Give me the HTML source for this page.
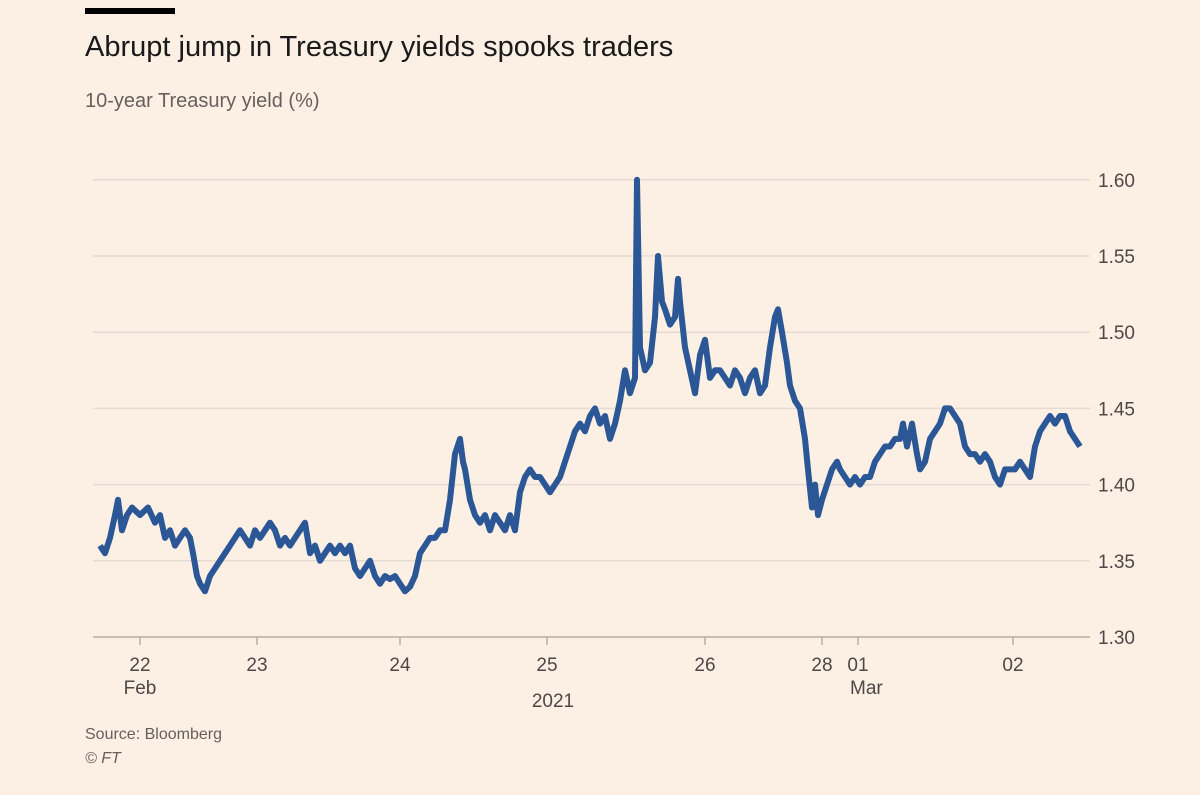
<!DOCTYPE html>
<html><head><meta charset="utf-8"><style>
body{margin:0;background:#fcf0e5;width:1200px;height:790px;overflow:hidden;font-family:"Liberation Sans",sans-serif;}
</style></head><body>
<svg width="1200" height="790">
<rect x="85" y="8" width="90" height="6" fill="#000"/>
<text x="85" y="56" font-size="29" fill="#1a1a1a">Abrupt jump in Treasury yields spooks traders</text>
<text x="85" y="107" font-size="20" fill="#66605c">10-year Treasury yield (%)</text>
<g id="grid"></g><g id="xaxis"></g>
<path id="line" fill="none" stroke="#2b5797" stroke-width="6" stroke-linejoin="round"/>
<text x="85" y="739" font-size="16" fill="#66605c">Source: Bloomberg</text>
<text x="85" y="763" font-size="16" font-style="italic" fill="#66605c">© FT</text>
</svg>
<script>
const yTicks=[1.30,1.35,1.40,1.45,1.50,1.55,1.60];
const xTickT=[8,31.4,60,89.4,121,144.4,151.6,182.6];
const xTickLabels=["22","23","24","25","26","28","01","02"];
const times=[0,1,2,3,3.6,4.4,5.4,6.4,8,9.6,11,12,13,14,15,16,17,18,18.6,19.4,20,21,22,23,24,25,26,27,28,29,30,31,32,33,34,35,36,37,38,39,40,41,42,43,44,45,46,47,48,49,50,51,52,53,54,55,56,57,58,59,60,61,62,63,64,65,66,67,68,69,70,71,72,72.6,73,74,75,76,77,78,79,80,81,82,83,84,85,86,87,88,89,90,91,92,93,94,95,96,97,98,99,100,101,102,103,104,105,106,107,107.4,108,109,110,111,111.6,112.4,113,114,115,115.6,116,117,118,119,120,121,122,123,124,125,126,127,128,129,130,131,132,133,134,135,135.6,136.4,137.4,138,139,140,141,141.6,142.4,143,143.6,144.4,145.4,146.4,147.4,148,149,150,151,152,153,154,155,156,157,158,159,160,160.6,161.4,162.4,163.4,164,165,166,167,168,169,170,171,172,173,174,175,176,177,178,179,180,181,182,183,184,185,186,187,188,189,190,191,192,193,194,195,196];
const values=[1.36,1.355,1.365,1.38,1.39,1.37,1.38,1.385,1.38,1.385,1.375,1.38,1.365,1.37,1.36,1.365,1.37,1.365,1.355,1.34,1.335,1.33,1.34,1.345,1.35,1.355,1.36,1.365,1.37,1.365,1.36,1.37,1.365,1.37,1.375,1.37,1.36,1.365,1.36,1.365,1.37,1.375,1.355,1.36,1.35,1.355,1.36,1.355,1.36,1.355,1.36,1.345,1.34,1.345,1.35,1.34,1.335,1.34,1.338,1.34,1.335,1.33,1.333,1.34,1.355,1.36,1.365,1.365,1.37,1.37,1.39,1.42,1.43,1.415,1.41,1.39,1.38,1.375,1.38,1.37,1.38,1.375,1.37,1.38,1.37,1.395,1.405,1.41,1.405,1.405,1.4,1.395,1.4,1.405,1.415,1.425,1.435,1.44,1.435,1.445,1.45,1.44,1.445,1.43,1.44,1.455,1.475,1.46,1.47,1.60,1.49,1.475,1.48,1.51,1.55,1.52,1.515,1.505,1.51,1.535,1.52,1.49,1.475,1.46,1.485,1.495,1.47,1.475,1.475,1.47,1.465,1.475,1.47,1.46,1.47,1.475,1.46,1.465,1.49,1.51,1.515,1.5,1.48,1.465,1.455,1.45,1.43,1.41,1.385,1.40,1.38,1.39,1.40,1.41,1.415,1.41,1.405,1.40,1.405,1.40,1.405,1.405,1.415,1.42,1.425,1.425,1.43,1.43,1.44,1.425,1.44,1.42,1.41,1.415,1.43,1.435,1.44,1.45,1.45,1.445,1.44,1.425,1.42,1.42,1.415,1.42,1.415,1.405,1.40,1.41,1.41,1.41,1.415,1.41,1.405,1.425,1.435,1.44,1.445,1.44,1.445,1.445,1.435,1.43,1.425];
const NS="http://www.w3.org/2000/svg";
const X=t=>100+t*5;
const Y=v=>637-(v-1.30)*1524;
const grid=document.getElementById('grid');
yTicks.forEach(v=>{
  const l=document.createElementNS(NS,'line');
  l.setAttribute('x1',93);l.setAttribute('x2',1090);l.setAttribute('y1',Y(v));l.setAttribute('y2',Y(v));
  l.setAttribute('stroke',v===1.30?'#b8aea6':'#e6dbd1');l.setAttribute('stroke-width',1.5);
  
  
  grid.appendChild(l);
  const t=document.createElementNS(NS,'text');
  t.setAttribute('x',1098);t.setAttribute('y',Y(v)+7);t.setAttribute('font-size','19');t.setAttribute('fill','#4d4845');
  t.textContent=v.toFixed(2);
  
  
  grid.appendChild(t);
});
const xa=document.getElementById('xaxis');
xTickT.forEach((tt,i)=>{
  const l=document.createElementNS(NS,'line');
  l.setAttribute('x1',X(tt));l.setAttribute('x2',X(tt));l.setAttribute('y1',637);l.setAttribute('y2',645);
  l.setAttribute('stroke','#b8aea6');l.setAttribute('stroke-width',1.5);
  
  
  xa.appendChild(l);
  const t=document.createElementNS(NS,'text');
  t.setAttribute('x',X(tt));t.setAttribute('y',671);t.setAttribute('font-size','19');t.setAttribute('fill','#4d4845');t.setAttribute('text-anchor','middle');
  t.textContent=xTickLabels[i];
  
  
  xa.appendChild(t);
});
[["Feb",X(xTickT[0]),'middle'],["Mar",X(xTickT[6])-8,'start'],["2021",553,'middle']].forEach((d,i)=>{
  const t=document.createElementNS(NS,'text');
  t.setAttribute('x',d[1]);t.setAttribute('y',i===2?707:694);t.setAttribute('font-size','19');t.setAttribute('fill','#4d4845');t.setAttribute('text-anchor',d[2]);
  t.textContent=d[0];
  
  
  xa.appendChild(t);
});
document.getElementById('line').setAttribute('d',times.map((t,i)=>(i?'L':'M')+X(t).toFixed(1)+','+Y(values[i]).toFixed(1)).join(''));
</script>
</body></html>
